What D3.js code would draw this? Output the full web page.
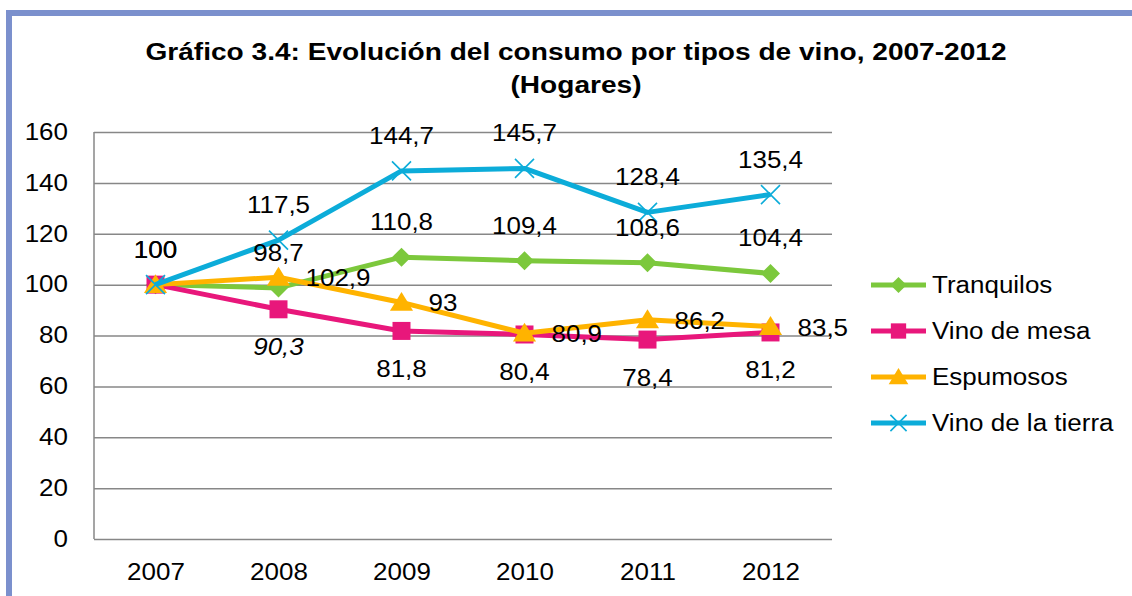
<!DOCTYPE html>
<html>
<head>
<meta charset="utf-8">
<script src="https://cdn.jsdelivr.net/npm/d3@7"></script>
<style>
  body { margin: 0; background: #fff; }
  svg { display: block; font-family: "Liberation Sans", Arial, sans-serif; }
</style>
</head>
<body>
<svg id="chart" width="1132" height="596"></svg>
<script>
// data
var years = ['2007', '2008', '2009', '2010', '2011', '2012'];
var yTicks = [0, 20, 40, 60, 80, 100, 120, 140, 160];
var tranquilos = [100, 98.7, 110.8, 109.4, 108.6, 104.4];
var vinoMesa = [100, 90.3, 81.8, 80.4, 78.4, 81.2];
var espumosos = [100, 102.9, 93, 80.9, 86.2, 83.5];
var vinoTierra = [100, 117.5, 144.7, 145.7, 128.4, 135.4];

var series = [
  { name: 'Tranquilos', values: tranquilos, color: '#7cc83c', marker: 'diamond', label: 'above' },
  { name: 'Vino de mesa', values: vinoMesa, color: '#e8177b', marker: 'square', label: 'below', skipFirst: true, italic: 1 },
  { name: 'Espumosos', values: espumosos, color: '#ffb300', marker: 'triangle', label: 'right', skipFirst: true },
  { name: 'Vino de la tierra', values: vinoTierra, color: '#0cacd9', marker: 'cross', label: 'above' }
];

var svg = d3.select('#chart');
var fmt = function(v) { return String(v).replace('.', ','); };
var SX = 1.13; // the reference text is a bit wider than Liberation Sans

// text placed through a transform so it can be widened
function addText(parent, x0, y0, str, size, sx) {
  return parent.append('text')
    .attr('transform', 'translate(' + x0 + ',' + y0 + ') scale(' + (sx || SX) + ',1)')
    .attr('font-size', size || 23)
    .attr('dominant-baseline', 'central')
    .text(str);
}

// frame
svg.append('path')
  .attr('d', 'M9,596 V13 H1132')
  .attr('fill', 'none')
  .attr('stroke', '#7b90cd')
  .attr('stroke-width', 6);

// title
addText(svg, 576, 52, 'Gráfico 3.4: Evolución del consumo por tipos de vino, 2007-2012', 24, 1.17)
  .attr('text-anchor', 'middle').attr('font-weight', 'bold');
addText(svg, 576, 85, '(Hogares)', 24, 1.17)
  .attr('text-anchor', 'middle').attr('font-weight', 'bold');

var mLeft = 94, mRight = 832, mTop = 132, mBottom = 539;

var x = d3.scalePoint().domain(years).range([mLeft, mRight]).padding(0.5);
var y = d3.scaleLinear().domain([0, 160]).range([mBottom, mTop]);

// y axis with gridlines
var yAxis = svg.append('g')
  .attr('transform', 'translate(' + mLeft + ',0)')
  .call(d3.axisLeft(y).tickValues(yTicks).tickSize(-(mRight - mLeft)).tickPadding(23));
yAxis.select('.domain').remove();
yAxis.selectAll('.tick line').attr('stroke', '#878787').attr('stroke-width', 1.5);
yAxis.selectAll('.tick text')
  .attr('font-size', 23).attr('fill', '#000').attr('font-family', null)
  .attr('transform', 'scale(' + SX + ',1)');

svg.append('line')
  .attr('x1', mLeft).attr('x2', mLeft).attr('y1', mTop).attr('y2', mBottom)
  .attr('stroke', '#878787').attr('stroke-width', 1.5);

// x axis labels
var xAxis = svg.append('g')
  .attr('transform', 'translate(0,' + mBottom + ')')
  .call(d3.axisBottom(x).tickSize(0).tickPadding(25));
xAxis.select('.domain').remove();
xAxis.selectAll('.tick text')
  .attr('font-size', 23).attr('fill', '#000').attr('font-family', null)
  .attr('transform', 'scale(' + SX + ',1)');

function markerPath(type, s) {
  if (type === 'diamond') return 'M0,' + (-s) + ' L' + s + ',0 L0,' + s + ' L' + (-s) + ',0 Z';
  if (type === 'square') return 'M' + (-s) + ',' + (-s) + ' H' + s + ' V' + s + ' H' + (-s) + ' Z';
  if (type === 'triangle') return 'M0,' + (-s) + ' L' + (s * 1.1) + ',' + (s * 0.8) + ' H' + (-s * 1.1) + ' Z';
  return 'M' + (-s) + ',' + (-s) + ' L' + s + ',' + s + ' M' + s + ',' + (-s) + ' L' + (-s) + ',' + s;
}
var markerSize = { diamond: 9.5, square: 9, triangle: 10.5, cross: 9.5 };

function drawMarker(g, d, cx, cy, scale) {
  var s = markerSize[d.marker] * scale;
  var p = g.append('path')
    .attr('transform', 'translate(' + cx + ',' + cy + ')')
    .attr('d', markerPath(d.marker, s));
  if (d.marker === 'cross') {
    p.attr('fill', 'none').attr('stroke', d.color).attr('stroke-width', 1.6);
  } else {
    p.attr('fill', d.color);
  }
}

var line = d3.line()
  .x(function(v, i) { return x(years[i]); })
  .y(function(v) { return y(v); });

series.forEach(function(d) {
  var g = svg.append('g');
  g.append('path')
    .attr('d', line(d.values))
    .attr('fill', 'none')
    .attr('stroke', d.color)
    .attr('stroke-width', 5)
    .attr('stroke-linejoin', 'round');
  d.values.forEach(function(v, i) {
    drawMarker(g, d, x(years[i]), y(v), 1);
  });
});

// data labels
series.forEach(function(d) {
  d.values.forEach(function(v, i) {
    if (d.skipFirst && i === 0) return;
    var px = x(years[i]), py = y(v), t;
    if (d.label === 'above') {
      t = addText(svg, px, py - 35, fmt(v)).attr('text-anchor', 'middle');
    } else if (d.label === 'below') {
      t = addText(svg, px, py + 38, fmt(v)).attr('text-anchor', 'middle');
    } else {
      t = addText(svg, px + 27, py + 1, fmt(v)).attr('text-anchor', 'start');
    }
    if (d.italic === i) t.attr('font-style', 'italic');
  });
});

// legend
var legend = svg.append('g').attr('transform', 'translate(871,285)');
series.forEach(function(d, i) {
  var g = legend.append('g').attr('transform', 'translate(0,' + (i * 46) + ')');
  g.append('line')
    .attr('x1', 0).attr('x2', 55)
    .attr('stroke', d.color).attr('stroke-width', 5);
  drawMarker(g, d, 27.5, 0, 0.85);
  addText(g, 61, 0, d.name);
});
</script>
</body>
</html>
